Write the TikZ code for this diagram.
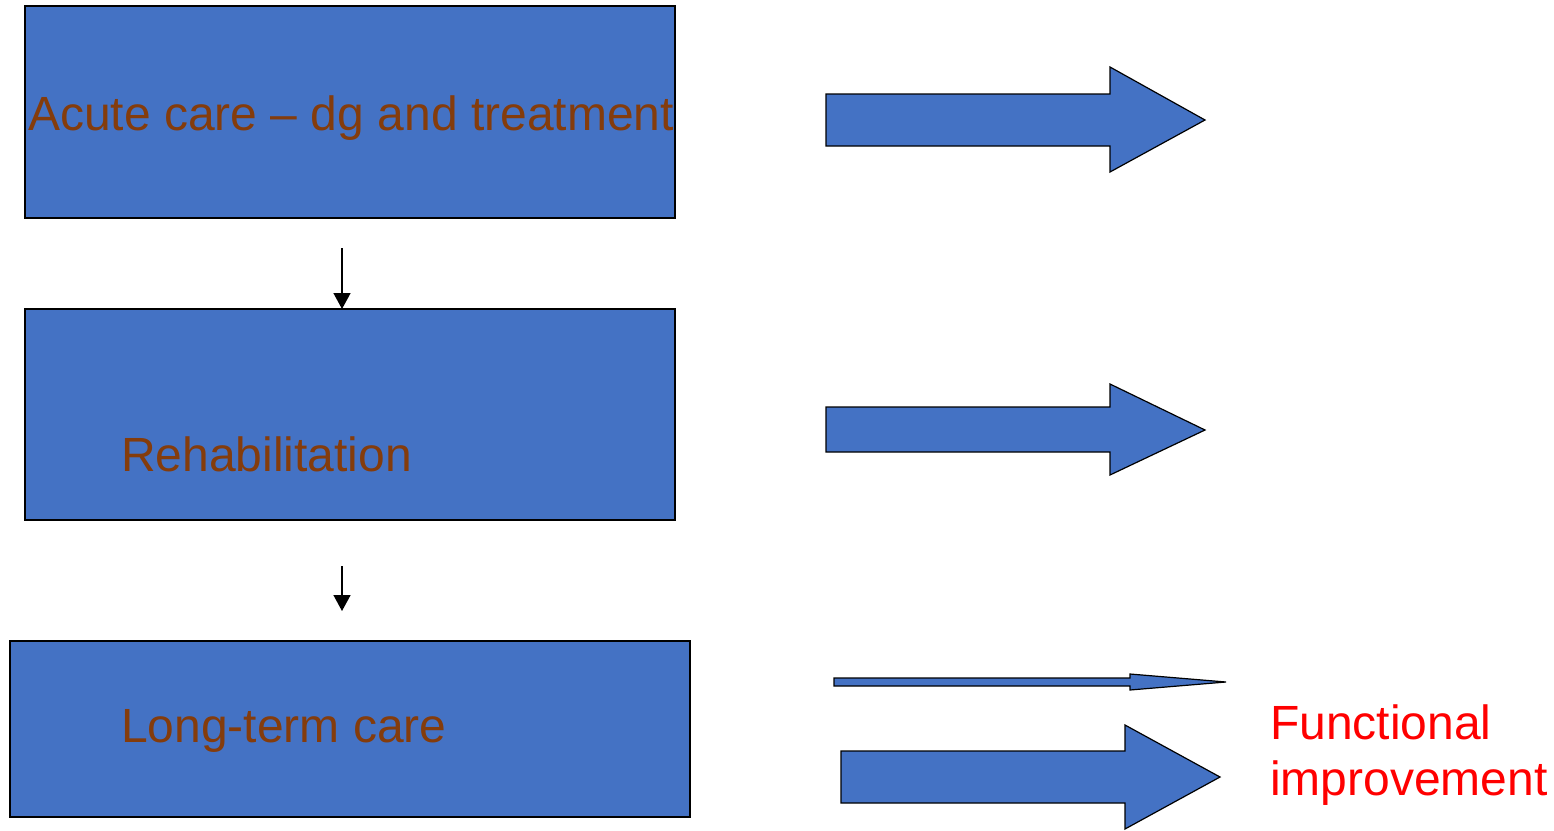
\documentclass[tikz,border=0pt]{standalone}
\usepackage{fontspec}
\setmainfont{Liberation Sans}
\usetikzlibrary{arrows.meta}
\definecolor{boxblue}{HTML}{4472C4}
\definecolor{txtbrown}{HTML}{843C0C}
\definecolor{txtred}{HTML}{FF0000}
\begin{document}
\begin{tikzpicture}[x=1pt,y=-1pt,
  stagebox/.style={draw=black,line width=1.2pt,fill=boxblue},
  blockarrow/.style={draw=black,line width=1.2pt,fill=boxblue,line join=miter},
  stagetext/.style={text=txtbrown,font=\fontsize{48}{56}\selectfont,anchor=base west,inner sep=0pt},
  redtext/.style={text=txtred,font=\fontsize{48}{56}\selectfont,anchor=base west,inner sep=0pt},
  smallarrow/.style={draw=black,line width=1.5pt,-{Triangle[length=16pt,width=17pt]}}]
\useasboundingbox (0,0) rectangle (1554,830);
% boxes
\draw[stagebox] (25,6) rectangle (675,218);
\draw[stagebox] (25,309) rectangle (675,520);
\draw[stagebox] (10,641) rectangle (690,817);
\coordinate (b2top) at (342,309);
\node[stagetext] (t1) at (28,130) {Acute care – dg and treatment};
\node[stagetext] (t2) at (121,471) {Rehabilitation};
\node[stagetext] (t3) at (121,742) {Long-term care};
% small arrows
\coordinate (s1) at (342,248);
\coordinate (s2) at (342,566);
\coordinate (e2) at (342,611);
\draw[smallarrow] (s1) -- (b2top);
\draw[smallarrow] (s2) -- (e2);
% block arrows
\draw[blockarrow] (826,94) -- (1110,94) -- (1110,67) -- (1205,120) -- (1110,172) -- (1110,146) -- (826,146) -- cycle;
\draw[blockarrow] (826,407) -- (1110,407) -- (1110,384) -- (1205,430) -- (1110,475) -- (1110,452) -- (826,452) -- cycle;
\draw[blockarrow] (834,678) -- (1130,678) -- (1130,674) -- (1226,682) -- (1130,690) -- (1130,686) -- (834,686) -- cycle;
\draw[blockarrow] (841,751) -- (1125,751) -- (1125,725) -- (1220,777) -- (1125,829) -- (1125,803) -- (841,803) -- cycle;
\node[redtext] (fi) at (1270,739) {Functional};
\node[redtext] (fi2) at (1270,795) {improvement};
\end{tikzpicture}
\end{document}
